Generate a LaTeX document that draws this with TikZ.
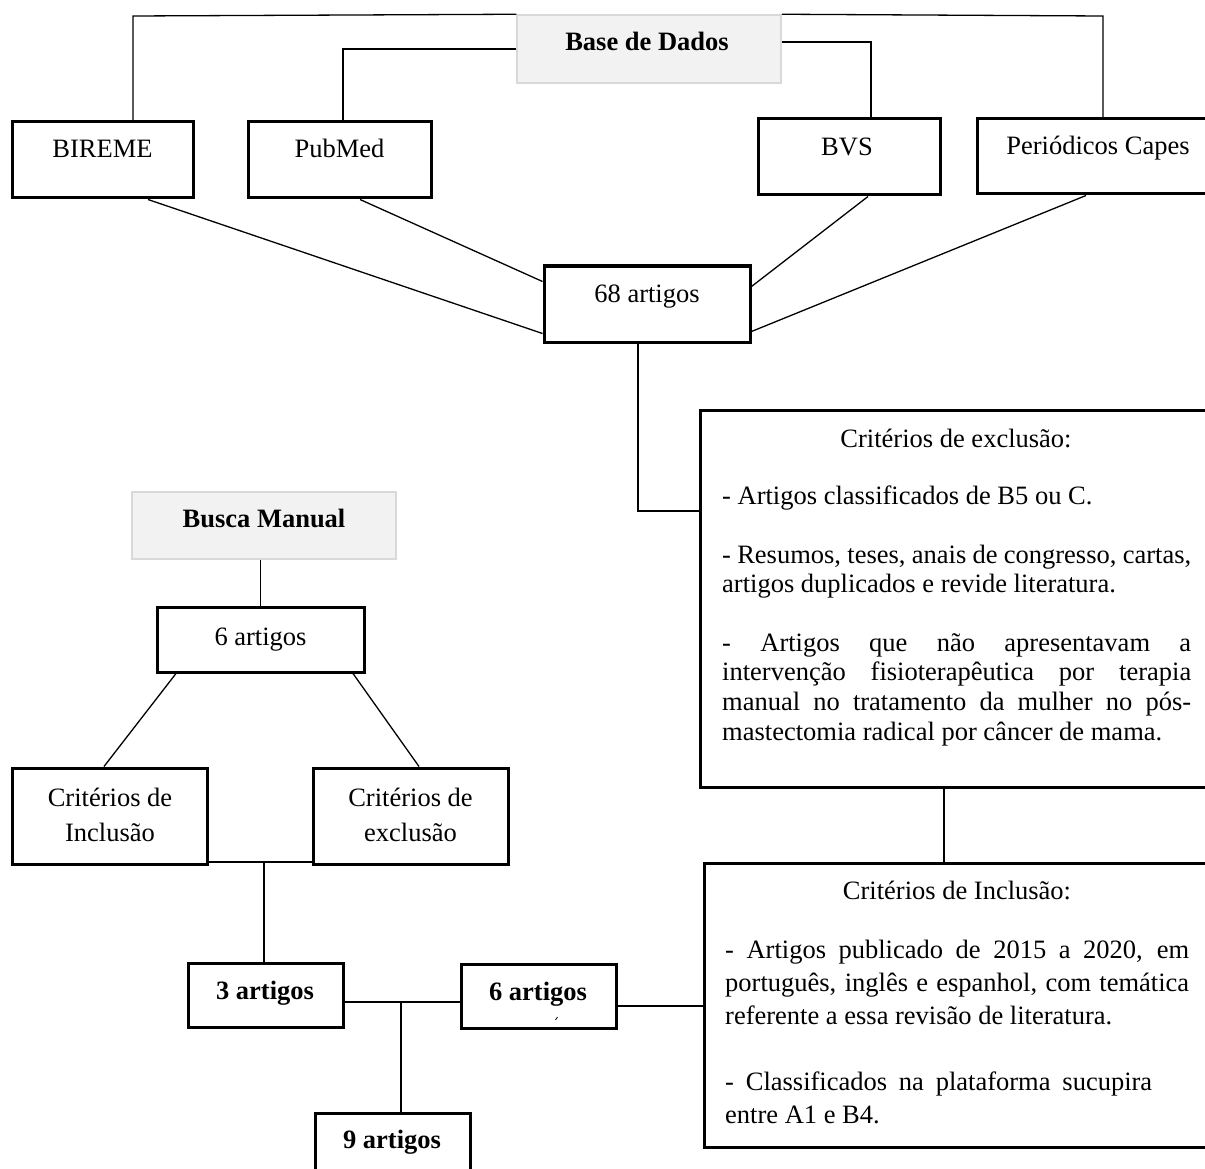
\documentclass[tikz,border=0pt]{standalone}
\usepackage{fontspec}
\setmainfont{Liberation Serif}
\newcommand\mainsz{\fontsize{26.5pt}{31pt}\selectfont}
\definecolor{gfill}{HTML}{F2F2F2}
\definecolor{gborder}{HTML}{D9D9D9}
\begin{document}
\begin{tikzpicture}[x=1pt,y=-1pt,
  bx/.style={draw=black,line width=3pt,rectangle,inner sep=0pt,fill=white},
  gbx/.style={draw=gborder,line width=1.5pt,rectangle,inner sep=0pt,fill=gfill},
  txt/.style={anchor=base,inner sep=0pt,font=\mainsz},
  btxt/.style={anchor=base,inner sep=0pt,font=\mainsz\bfseries},
  ltxt/.style={anchor=base west,inner sep=0pt,font=\mainsz},
  ln/.style={draw=black,line width=1.3pt}]
\useasboundingbox (0,0) rectangle (1205,1169);
\clip (0,0) rectangle (1205,1169);

% ---- boxes (top part)
\node[gbx,minimum width=264pt,minimum height=68pt] (base) at (649,49) {};
\node[btxt] (baset) at (647,51) {Base de Dados};

\node[bx,minimum width=181pt,minimum height=76pt] (bireme) at (102.5,160) {};
\node[txt] (biremet) at (102.5,158) {BIREME};
\node[bx,minimum width=183pt,minimum height=76pt] (pubmed) at (339.5,160) {};
\node[txt] (pubmedt) at (339.5,158) {PubMed};
\node[bx,minimum width=182pt,minimum height=76pt] (bvs) at (849,157) {};
\node[txt] (bvst) at (847,156) {BVS};
\node[bx,minimum width=243pt,minimum height=75pt] (caps) at (1098.5,156.5) {};
\node[txt] (capst) at (1098,155) {Periódicos Capes};

\node[bx,minimum width=206pt,minimum height=76pt] (a68) at (647,304) {};
\node[txt] (a68t) at (647,302) {68 artigos};

% ---- right criteria boxes
\node[bx,minimum width=520pt,minimum height=377pt] (excl) at (960,598.5) {};
\node[txt] (ex0) at (956,447) {Critérios de exclusão:};
\node[ltxt] (ex1) at (722,504) {- Artigos classificados de B5 ou C.};
\node[ltxt] (ex2) at (722,563) {\makebox[469pt][s]{- Resumos, teses, anais de congresso, cartas,}};
\node[ltxt] (ex3) at (722,592) {artigos duplicados e revide literatura.};
\node[ltxt] (ex4) at (722,651) {\makebox[469pt][s]{- Artigos que não apresentavam a}};
\node[ltxt] (ex5) at (722,680) {\makebox[469pt][s]{intervenção fisioterapêutica por terapia}};
\node[ltxt] (ex6) at (722,710) {\makebox[469pt][s]{manual no tratamento da mulher no pós-}};
\node[ltxt] (ex7) at (722,740) {mastectomia radical por câncer de mama.};

\node[bx,minimum width=516pt,minimum height=284pt] (incl) at (962,1005) {};
\node[txt] (in0) at (957,899) {Critérios de Inclusão:};
\node[ltxt] (in1) at (725,958) {\makebox[464pt][s]{- Artigos publicado de 2015 a 2020, em}};
\node[ltxt] (in2) at (725,991) {\makebox[464pt][s]{português, inglês e espanhol, com temática}};
\node[ltxt] (in3) at (725,1024) {referente a essa revisão de literatura.};
\node[ltxt] (in4) at (725,1090) {\makebox[427pt][s]{- Classificados na plataforma sucupira}};
\node[ltxt] (in5) at (725,1123) {entre A1 e B4.};

% ---- left (manual search) part
\node[gbx,minimum width=264pt,minimum height=67pt] (busca) at (264,525.5) {};
\node[btxt] (buscat) at (264,527) {Busca Manual};

\node[bx,minimum width=207pt,minimum height=65pt] (six1) at (260.5,639.5) {};
\node[txt] (six1t) at (260.5,645) {6 artigos};

\node[bx,minimum width=195pt,minimum height=96pt] (inclL) at (109.5,816) {};
\node[txt] (inclLa) at (110,806) {Critérios de};
\node[txt] (inclLb) at (110,841) {Inclusão};
\node[bx,minimum width=195pt,minimum height=96pt] (exclL) at (410.5,816) {};
\node[txt] (exclLa) at (410.5,806) {Critérios de};
\node[txt] (exclLb) at (410.5,841) {exclusão};

\node[bx,minimum width=155pt,minimum height=64pt] (three) at (265.5,995) {};
\node[btxt] (threet) at (265,999) {3 artigos};
\node[bx,minimum width=155pt,minimum height=64pt] (six2) at (538.5,996) {};
\node[btxt] (six2t) at (538,1000) {6 artigos};
\draw[line width=0.8pt] (555.5,1020) -- (557.5,1017);

\node[bx,minimum width=155pt,minimum height=90pt] (nine) at (392.5,1158) {};
\node[btxt] (ninet) at (392,1148) {9 artigos};

% ---- connectors
\coordinate (tl) at (133,16);
\coordinate (tr) at (1103,16);
\draw[ln] (base.north west) -- (tl) -- (tl |- bireme.north);
\draw[ln] (base.north east) -- (tr) -- (tr |- caps.north);
\coordinate (pm) at (343,49);
\draw[ln] (base.west) -- (pm) -- (pm |- pubmed.north);
\coordinate (bv) at (871,42);
\draw[ln] (bv -| base.east) -- (bv) -- (bv |- bvs.north);

\draw[ln] ([xshift=45.5pt]bireme.south) -- ([yshift=10pt]a68.south west);
\draw[ln] ([xshift=20.5pt]pubmed.south) -- ([yshift=-17pt]a68.north west);
\draw[ln] ([xshift=19pt]bvs.south) -- ([yshift=-22pt]a68.north east);
\draw[ln] ([xshift=-12.5pt]caps.south) -- ([yshift=12pt]a68.south east);

\coordinate (ex) at (638,511);
\draw[ln] (ex |- a68.south) -- (ex) -- (ex -| excl.west);
\coordinate (ei) at (944,800);
\draw[ln] (ei |- excl.south) -- (ei |- incl.north);
\coordinate (si) at (640,1006);
\draw[ln] (si -| six2.east) -- (si -| incl.west);

\draw[ln] (busca.south -| six1.north) -- (six1.north);
\draw[ln] ([xshift=-84.5pt]six1.south) -- ([xshift=-5.5pt]inclL.north);
\draw[ln] ([xshift=92.5pt]six1.south) -- ([xshift=8.5pt]exclL.north);

\coordinate (j1) at (264,862);
\draw[ln] (j1 -| inclL.east) -- (j1 -| exclL.west);
\draw[ln] (j1) -- (j1 |- three.north);
\coordinate (j2) at (401,1002);
\draw[ln] (j2 -| three.east) -- (j2 -| six2.west);
\draw[ln] (j2) -- (j2 |- nine.north);
\end{tikzpicture}
\end{document}
